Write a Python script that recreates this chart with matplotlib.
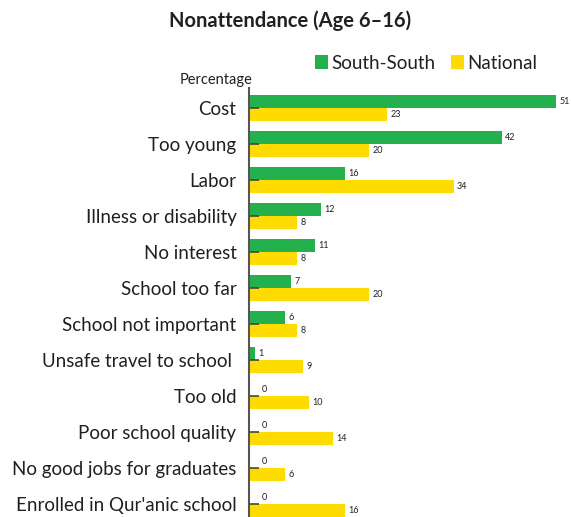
import numpy as np
import matplotlib
matplotlib.use('Agg')
import matplotlib.pyplot as plt

GREEN = '#24B14D'
YELLOW = '#FFDC00'
TEXT = '#231F20'

reasons = ['Cost', 'Too young', 'Labor', 'Illness or disability', 'No interest',
           'School too far', 'School not important', 'Unsafe travel to school ',
           'Too old', 'Poor school quality', 'No good jobs for graduates',
           "Enrolled in Qur'anic school"]
south_south = [51, 42, 16, 12, 11, 7, 6, 1, 0, 0, 0, 0]
national = [23, 20, 34, 8, 8, 20, 8, 9, 10, 14, 6, 16]

plt.rcParams['font.family'] = ['Lato', 'DejaVu Sans']

fig = plt.figure(figsize=(5.71, 5.17), dpi=100)
ax = fig.add_axes([0.436, 0.0, 0.564, 0.83])

y = np.arange(len(reasons))
bar_h = 0.36
green_bars = ax.barh(y - 0.19, south_south, height=bar_h, color=GREEN, label='South-South')
yellow_bars = ax.barh(y + 0.19, national, height=bar_h, color=YELLOW, label='National')

# value labels next to each bar
for bars, vals in ((green_bars, south_south), (yellow_bars, national)):
    for bar, v in zip(bars, vals):
        offset = 9 if v == 0 else 2.5
        ax.annotate(str(v), (v, bar.get_y() + bar.get_height() / 2),
                    xytext=(offset, 0), textcoords='offset points',
                    ha='left', va='center', fontsize=6.5, color=TEXT,
                    annotation_clip=False)

ax.set_xlim(0, 53.5)
ax.set_ylim(11.36, -0.556)
ax.set_yticks(y, reasons, fontsize=13.5, color=TEXT)
ax.tick_params(axis='y', direction='in', length=7, width=1.2, color='#444444', pad=9)
ax.set_xticks([])

for side in ('top', 'right', 'bottom'):
    ax.spines[side].set_visible(False)
ax.spines['left'].set_color('#555555')
ax.spines['left'].set_linewidth(1.5)

fig.text(0.443, 0.845, 'Percentage', ha='right', va='center', fontsize=10.5, color=TEXT)
fig.text(0.508, 0.96, 'Nonattendance (Age 6\u201316)', ha='center', va='center',
         fontsize=14.5, fontweight='bold', color=TEXT)

fig.legend(handles=[green_bars, yellow_bars], labels=['South-South', 'National'],
           loc='center', bbox_to_anchor=(0.746, 0.878), ncol=2, frameon=False,
           fontsize=13.5, handlelength=0.7, handleheight=0.7, handletextpad=0.2,
           columnspacing=0.8, borderpad=0, labelcolor=TEXT)

fig.savefig('out.png', dpi=100)
